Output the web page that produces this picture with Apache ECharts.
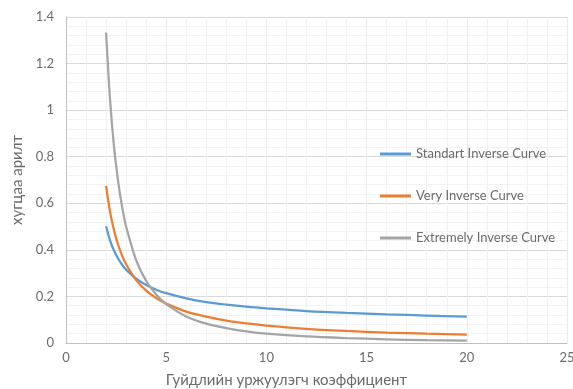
<!DOCTYPE html>
<html>
<head>
<meta charset="utf-8">
<script src="https://cdn.jsdelivr.net/npm/echarts@6/dist/echarts.min.js"></script>
<style>
  html, body { margin: 0; padding: 0; background: #fff; }
  #chart { width: 573px; height: 389px; }
</style>
</head>
<body>
<div id="chart"></div>
<script>
// Current multiple (I / I_set) at which operating times are listed
const multiples = [2, 2.2, 2.4, 2.6, 2.8, 3, 3.5, 4, 4.5, 5, 6, 7, 8, 9, 10, 12, 14, 16, 18, 20];

// Operating time, seconds
const standardInverse = [0.501, 0.440, 0.396, 0.363, 0.336, 0.315, 0.276, 0.249, 0.229, 0.214, 0.192, 0.176, 0.165, 0.156, 0.149, 0.137, 0.129, 0.123, 0.118, 0.113];
const veryInverse = [0.675, 0.563, 0.482, 0.422, 0.375, 0.338, 0.270, 0.225, 0.193, 0.169, 0.135, 0.113, 0.096, 0.084, 0.075, 0.061, 0.052, 0.045, 0.040, 0.036];
const extremelyInverse = [1.333, 1.042, 0.840, 0.694, 0.585, 0.500, 0.356, 0.267, 0.208, 0.167, 0.114, 0.083, 0.064, 0.050, 0.040, 0.028, 0.021, 0.016, 0.012, 0.010];

const seriesNames = ['Standart Inverse Curve', 'Very Inverse Curve', 'Extremely Inverse Curve'];
const seriesColors = ['#5b9bd5', '#ed7d31', '#a5a5a5'];
const seriesValues = [standardInverse, veryInverse, extremelyInverse];

const textColor = '#6b6b6b';
const font = 'Lato, "Open Sans", "Noto Sans", sans-serif';

const chart = echarts.init(document.getElementById('chart'), null, { renderer: 'canvas' });

chart.setOption({
  backgroundColor: '#ffffff',
  animation: false,
  grid: { left: 66, right: 6, top: 17, bottom: 46, containLabel: false, outerBoundsMode: 'none' },
  legend: {
    orient: 'vertical',
    left: 375,
    top: 141,
    itemWidth: 31,
    itemHeight: 3,
    itemGap: 26,
    icon: 'rect',
    textStyle: { color: textColor, fontSize: 13, lineHeight: 16, fontFamily: font },
    data: seriesNames
  },
  xAxis: {
    type: 'value',
    min: 0,
    max: 25,
    interval: 5,
    name: 'Гуйдлийн уржуулэгч коэффициент',
    nameLocation: 'middle',
    nameGap: 30,
    nameTextStyle: { color: textColor, fontSize: 15, fontFamily: font, padding: [0, 60, 0, 0] },
    axisLine: { show: true, lineStyle: { color: '#bfbfbf', width: 1 } },
    axisTick: { show: false },
    axisLabel: { color: textColor, fontSize: 13, fontFamily: font, margin: 8 },
    splitLine: { show: true, lineStyle: { color: '#ececec', width: 1 } },
    minorTick: { show: false, splitNumber: 5 },
    minorSplitLine: { show: true, lineStyle: { color: '#f2f2f2', width: 1 } }
  },
  yAxis: {
    type: 'value',
    min: 0,
    max: 1.4,
    interval: 0.2,
    name: 'хугцаа арилт',
    nameLocation: 'middle',
    nameRotate: 90,
    nameGap: 41,
    nameTextStyle: { color: textColor, fontSize: 15, fontFamily: font },
    axisLine: { show: true, lineStyle: { color: '#bfbfbf', width: 1 } },
    axisTick: { show: false },
    axisLabel: {
      color: textColor, fontSize: 13, fontFamily: font, margin: 12,
      formatter: v => String(Math.round(v * 10) / 10)
    },
    splitLine: { show: true, lineStyle: { color: '#d9d9d9', width: 1 } },
    minorTick: { show: false, splitNumber: 5 },
    minorSplitLine: { show: true, lineStyle: { color: '#f2f2f2', width: 1 } }
  },
  series: seriesNames.map((name, i) => ({
    name,
    type: 'line',
    smooth: 0.3,
    showSymbol: false,
    symbol: 'none',
    color: seriesColors[i],
    lineStyle: { color: seriesColors[i], width: 2.25 },
    data: multiples.map((m, k) => [m, seriesValues[i][k]])
  }))
});
</script>
</body>
</html>
